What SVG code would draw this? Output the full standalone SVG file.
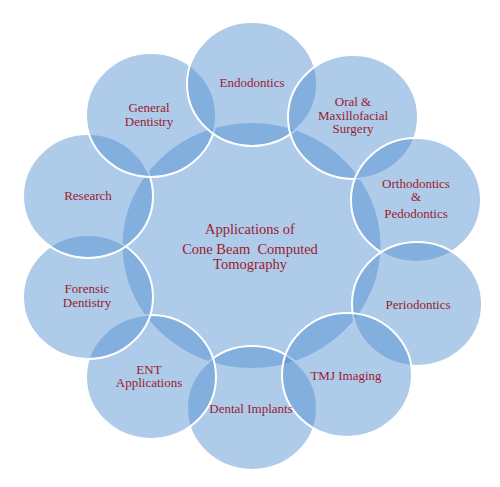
<svg xmlns="http://www.w3.org/2000/svg" width="500" height="487" viewBox="0 0 500 487">
<style>
.c{fill:#5291d2;fill-opacity:0.47;stroke:#ffffff;stroke-width:2}
.t{font-family:"Liberation Serif","Times New Roman",serif;font-size:13px;fill:#9b1c2e;text-anchor:middle}
.m{font-size:14.5px;white-space:pre}
</style>
<rect width="500" height="487" fill="#ffffff"/>
<g id="center"><ellipse class="c" cx="251.5" cy="245.5" rx="130" ry="123.5"/></g>
<g id="dental"><ellipse class="c" cx="252" cy="408" rx="65" ry="62"/></g>
<g id="ent"><ellipse class="c" cx="151" cy="377" rx="65" ry="62"/></g>
<g id="forensic"><ellipse class="c" cx="88" cy="297" rx="65" ry="62"/></g>
<g id="research"><ellipse class="c" cx="88" cy="196" rx="65" ry="62"/></g>
<g id="general"><ellipse class="c" cx="151" cy="115" rx="65" ry="62"/></g>
<g id="endo"><ellipse class="c" cx="252" cy="84" rx="65" ry="62"/></g>
<g id="oral"><ellipse class="c" cx="353" cy="117" rx="65" ry="62"/></g>
<g id="ortho"><ellipse class="c" cx="416" cy="200" rx="65" ry="62"/></g>
<g id="perio"><ellipse class="c" cx="417" cy="304" rx="65" ry="62"/></g>
<g id="tmj"><ellipse class="c" cx="347" cy="375" rx="65" ry="62"/></g>
<g id="connectors"></g>
<g id="labels">
<text class="t m" x="250" y="234">Applications of</text>
<text class="t m" x="250" y="254">Cone Beam  Computed</text>
<text class="t m" x="250" y="269">Tomography</text>
<text class="t" x="252" y="87">Endodontics</text>
<text class="t" x="149" y="112">General</text>
<text class="t" x="149" y="125.5">Dentistry</text>
<text class="t" x="88" y="199.5">Research</text>
<text class="t" x="353" y="106">Oral &amp;</text>
<text class="t" x="353" y="119.5">Maxillofacial</text>
<text class="t" x="353" y="133">Surgery</text>
<text class="t" x="416" y="187.5">Orthodontics</text>
<text class="t" x="416" y="201">&amp;</text>
<text class="t" x="416" y="217.5">Pedodontics</text>
<text class="t" x="418" y="308.5">Periodontics</text>
<text class="t" x="346" y="379.5">TMJ Imaging</text>
<text class="t" x="251" y="412.5">Dental Implants</text>
<text class="t" x="149" y="373.5">ENT</text>
<text class="t" x="149" y="387">Applications</text>
<text class="t" x="87" y="293">Forensic</text>
<text class="t" x="87" y="306.5">Dentistry</text>
</g>
</svg>
